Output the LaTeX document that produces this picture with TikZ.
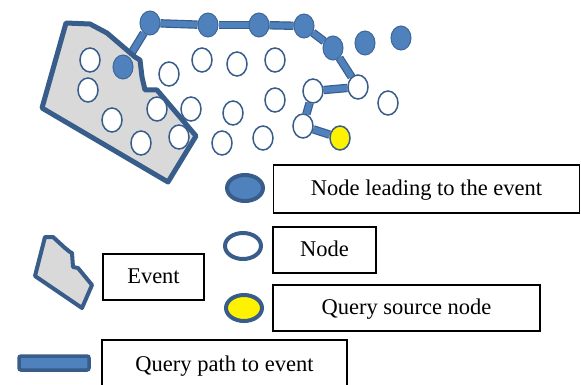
\documentclass[tikz,border=0pt]{standalone}
\usepackage{fontspec}
\setmainfont{Liberation Serif}
\usepackage{xcolor}
\usepackage{tikz}
\usetikzlibrary{shapes.geometric, backgrounds}

\definecolor{nodeblue}{HTML}{4F81BD}
\definecolor{edgeblue}{HTML}{385D8A}
\definecolor{eventgray}{HTML}{D9D9D9}

\begin{document}
\begin{tikzpicture}[x=1pt,y=-1pt]
					\tikzstyle{vertex}=[ellipse,draw=edgeblue,line width=1.5pt,fill=white,minimum width=20pt,minimum height=24pt,inner sep=0pt]
					\tikzstyle{lead}=[vertex,fill=nodeblue,draw=nodeblue!80!black,line width=1pt]
					\tikzstyle{source}=[vertex,fill=yellow]
					\tikzstyle{hop}=[draw=edgeblue,line width=1.2pt,double=nodeblue,double distance=6pt]
					\tikzstyle{keymark}=[ellipse,draw=edgeblue,line width=4pt,minimum width=36pt,minimum height=26pt,inner sep=0pt]
					\tikzstyle{caption}=[draw=black,line width=1.5pt,inner sep=0pt,text height=16pt,text depth=3pt,font=\fontsize{22.5}{26}\selectfont]
					\useasboundingbox (0,0) rectangle (581,385);
					% event region
					\draw[draw=edgeblue,fill=eventgray,line width=5pt,line join=round]
						(66,23) -- (90,24) -- (107,33) -- (135,57) -- (140,60) -- (142,77) -- (145,90)
						-- (157,90) -- (196,136) -- (168,182) -- (42,108) -- cycle;
					% nodes leading to the event
					\node[lead](l1) at (123,67){};
					\node[lead](l2) at (150,23){};
					\node[lead](l3) at (208,25){};
					\node[lead](l4) at (259,25){};
					\node[lead](l5) at (304,26){};
					\node[lead](l6) at (333,48){};
					\node[lead](l7) at (365,43){};
					\node[lead](l8) at (401,38){};
					% plain nodes
					\node[vertex](w1) at (90,60){};
					\node[vertex](w2) at (88,90){};
					\node[vertex](w3) at (112,120){};
					\node[vertex](w4) at (141,143){};
					\node[vertex](w5) at (157,109){};
					\node[vertex](w6) at (179,137){};
					\node[vertex](w7) at (169,74){};
					\node[vertex](w8) at (202,60){};
					\node[vertex](w9) at (237,64){};
					\node[vertex](w10) at (275,60){};
					\node[vertex](w11) at (191,109){};
					\node[vertex](w12) at (233,113){};
					\node[vertex](w13) at (275,100){};
					\node[vertex](w14) at (222,143){};
					\node[vertex](w15) at (263,138){};
					\node[vertex](w16) at (388,103){};
					\node[vertex](p1) at (358,87){};
					\node[vertex](p2) at (313,91){};
					\node[vertex](p3) at (303,126){};
					\node[source](s) at (340,138){};
					% query path
					\begin{pgfonlayer}{background}
					\path
						(l1) edge[hop] (l2)
						(l2) edge[hop] (l3)
						(l3) edge[hop] (l4)
						(l4) edge[hop] (l5)
						(l5) edge[hop] (l6)
						(l6) edge[hop] (p1)
						(p1) edge[hop] (p2)
						(p2) edge[hop] (p3)
						(p3) edge[hop] (s);
					\end{pgfonlayer}
					% legend
					\node[keymark,fill=nodeblue](keylead) at (245,188){};
					\node[keymark,fill=white](keynode) at (243,246){};
					\node[keymark,fill=yellow](keysrc) at (244,308){};
					\draw[draw=edgeblue,fill=eventgray,line width=4pt,line join=round]
						(45,237) -- (53,237) -- (65,248) -- (70,252) -- (72,253) -- (73,267)
						-- (78,268) -- (92,285) -- (82,308) -- (35,276) -- cycle;
					\node[draw=edgeblue,fill=nodeblue,line width=3.5pt,rounded corners=2pt,minimum width=70pt,minimum height=14pt,inner sep=0pt](keypath) at (54,363){};
					\node[caption,minimum width=306pt,minimum height=48pt](leadtext) at (426.5,189){Node leading to the event};
					\node[caption,minimum width=103pt,minimum height=46pt](nodetext) at (324.5,250){Node};
					\node[caption,minimum width=267pt,minimum height=46pt](srctext) at (406.5,308){Query source node};
					\node[caption,minimum width=101pt,minimum height=46pt](eventtext) at (153.5,277){Event};
					\node[caption,minimum width=245pt,minimum height=50pt](pathtext) at (224.5,365){Query path to event};
				\end{tikzpicture}
\end{document}
